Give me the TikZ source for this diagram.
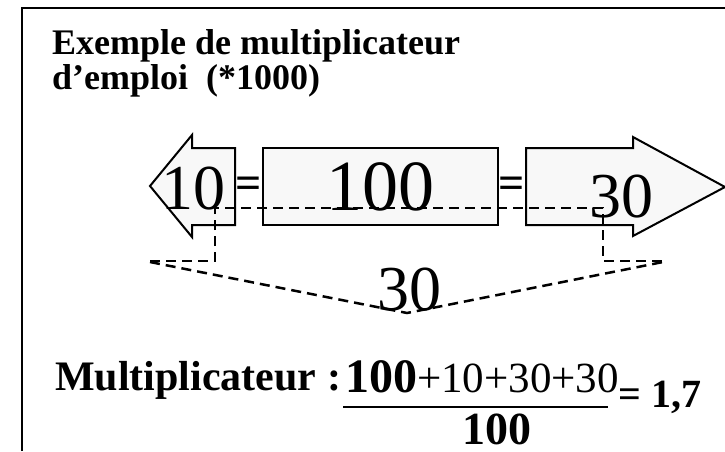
\documentclass[tikz,border=0pt]{standalone}
\usepackage{fontspec}
\setmainfont{Liberation Serif}
\usetikzlibrary{positioning}
\tikzstyle{slide} = [x = 1pt, y = -1pt]
\definecolor{shapeFill}{RGB}{248,248,248}
\tikzstyle{frameLine} = [color=black, line width=2.5pt]
\tikzstyle{shapeStyle} = [draw=black, fill=shapeFill, line width=2pt, line join=miter]
\tikzstyle{dashLine} = [color=black, line width=2.5pt, dash pattern=on 10pt off 6pt]
\tikzstyle{plainText} = [inner sep=0pt, anchor=base]
\newcommand{\sizeTo}[1]{\fontsize{#1}{#1}\selectfont}
\tikzstyle{titleText} = [plainText, anchor=base west, font=\sizeTo{36}\bfseries]
\tikzstyle{bigNumber} = [plainText, font=\sizeTo{64}]
\tikzstyle{equalSign} = [inner sep=0pt, font=\sizeTo{46}\bfseries]

\begin{document}
\begin{tikzpicture}[slide]
  \useasboundingbox (0,0) rectangle (725,451);
  % frame
  \draw [frameLine] (22,451) -- (22,8) -- (725,8);
  % title
  \node [titleText] (titleTop) at (52,54) {Exemple de multiplicateur};
  \node [titleText] (titleBottom) at (52,89) {d’emploi\ \ (*1000)};
  % arrows and box
  \filldraw [shapeStyle] (150,186) -- (192,135) -- (192,148) -- (235,148) -- (235,225) -- (192,225) -- (192,237) -- cycle;
  \filldraw [shapeStyle] (263,148) rectangle (498,225);
  \filldraw [shapeStyle] (526,148) -- (633,148) -- (633,137) -- (725,187) -- (633,236) -- (633,225) -- (526,225) -- cycle;
  \node [bigNumber] (leftValue) at (193,209) {10};
  \node [bigNumber, font=\sizeTo{72}] (centerValue) at (380.5,210) {100};
  \node [bigNumber] (rightValue) at (621.5,217) {30};
  \node [equalSign] (leftEqual) at (249,187.5) {=};
  \node [equalSign] (rightEqual) at (512,188) {=};
  % dashed lines
  \draw [dashLine] (150,261) -- (215,261) -- (215,208) -- (603,208) -- (603,261) -- (663,261);
  \draw [dashLine] (150,262) -- (407,313) -- (663,262);
  \node [bigNumber] (bottomValue) at (409,310) {30};
  % formula
  \node [plainText, anchor=base west, font=\sizeTo{42}\bfseries] (multLabel) at (55,390) {Multiplicateur :};
  \node [plainText, anchor=base west] (numerator) at (345,392) {\sizeTo{48}\bfseries 100\sizeTo{43}\mdseries +10+30+30};
  \draw [line width=2.5pt] (343,407) -- (608,407);
  \node [plainText, anchor=base west, font=\sizeTo{40}\bfseries] (result) at (618,407) {= 1,7};
  \node [plainText, font=\sizeTo{46}\bfseries] (denominator) at (497,444) {100};
\end{tikzpicture}
\end{document}
